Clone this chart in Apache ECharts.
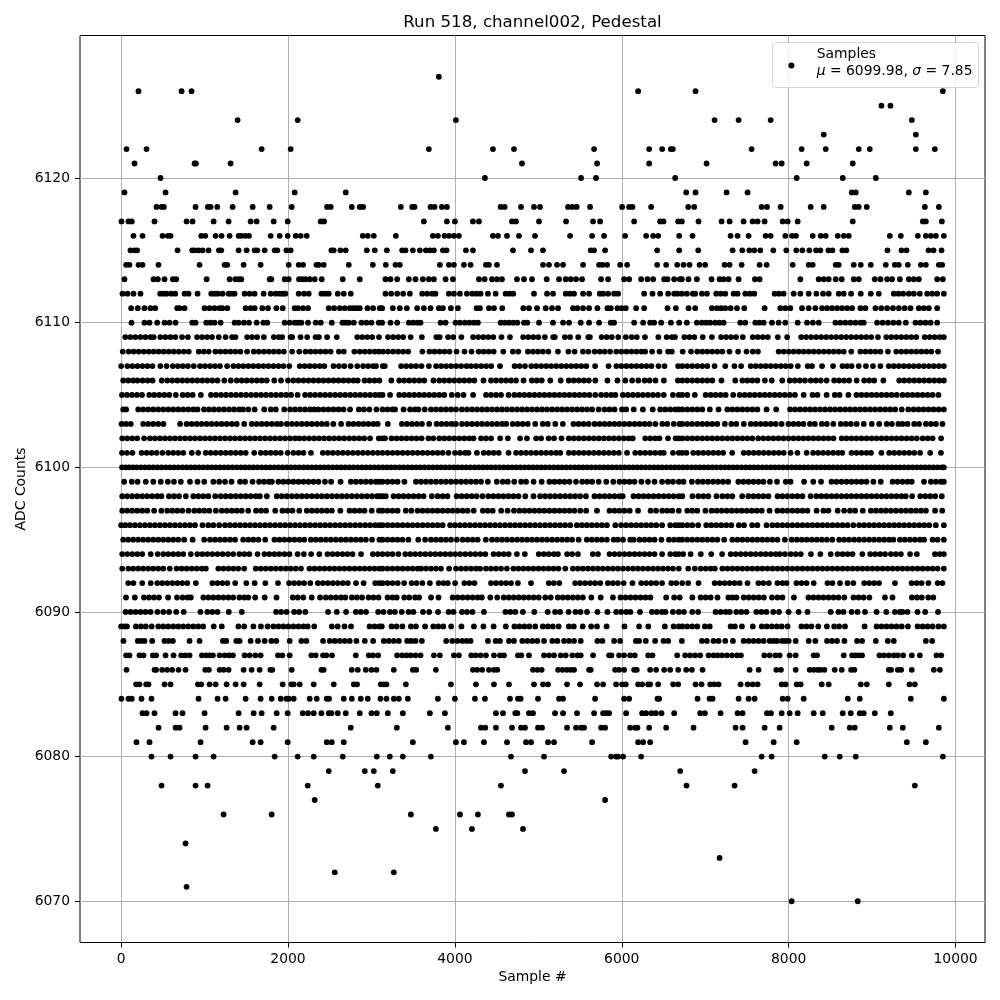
<!DOCTYPE html>
<html>
<head>
<meta charset="utf-8">
<script src="https://cdn.jsdelivr.net/npm/echarts@6/dist/echarts.min.js"></script>
<style>html,body{margin:0;padding:0;background:#fff}#c{width:1000px;height:1000px}</style>
</head>
<body>
<div id="c"></div>
<script>
const xTicks = [0, 2000, 4000, 6000, 8000, 10000];
const yTicks = [6070, 6080, 6090, 6100, 6110, 6120];
const s6127 = [3808];
const s6126 = [208,724,844,6196,6884,9848];
const s6125 = [9112,9220];
const s6124 = [1396,2116,4012,7112,7400,7784,9476];
const s6123 = [8420,9524];
const s6122 = [64,304,1684,2032,3688,4456,4708,5668,6328,6484,6588,6612,7556,8156,8444,8840,8972,9524,9752];
const s6121 = [160,880,896,1312,4804,5704,6328,7016,7844,7916,8216,8768];
const s6120 = [472,4360,5512,5692,6640,8096,8648,9044];
const s6119 = [40,532,1372,2080,2692,6772,6884,7256,7508,8756,8804,9440,9644];
const s6118 = [424,484,512,892,1040,1072,1152,1336,1576,1780,2044,2468,2512,2764,2860,2900,3352,3488,3516,3708,3756,3844,3904,4548,4596,4792,4948,5020,5356,5408,5460,5620,6004,6088,6128,6352,6796,6868,7676,7740,7904,8264,8420,8792,8840,8936,9632,9800];
const s6117 = [4,88,128,400,784,856,1108,1288,1552,1624,1828,1996,2392,2432,3628,3904,4000,4216,4288,4684,4732,5008,5332,5656,5740,6148,6460,6500,6676,6720,6920,7196,7292,7460,7568,7628,7712,7928,7988,8108,8768,9608,9644,9836];
const s6116 = [148,256,496,560,592,960,1008,1132,1204,1300,1408,1440,1488,1532,1792,1900,1996,2092,2152,2224,2896,2956,3028,3292,3736,3796,3876,3928,3988,4048,4456,4516,4624,4768,4960,5380,5644,5788,6040,6292,6376,6436,6688,6848,7304,7388,7520,7724,7784,7960,8040,8088,8288,8384,8444,8588,8660,8720,9212,9344,9548,9644,9704,9764,9860];
const s6115 = [112,160,192,676,852,880,928,976,1048,1172,1200,1408,1504,1600,1632,1720,1840,1872,1980,2032,2520,2548,2628,2692,2944,3040,3184,3368,3408,3496,3580,3652,3700,3748,3856,3900,4132,4216,4696,4912,5056,5628,5668,5800,6424,6688,6916,7328,7444,7528,7588,7660,7816,7972,8092,8164,8248,8328,8380,8476,8524,8644,8692,9184,9352,9412,9676,9736,9832];
const s6114 = [60,100,208,256,448,940,1240,1272,1468,1672,2008,2128,2180,2340,2368,2428,2728,3016,3172,3288,3340,3820,3928,3988,4108,4188,4372,4408,4504,5056,5128,5224,5296,5536,5728,5768,5824,5980,6064,6424,6532,6664,6740,6812,6932,7000,7232,7292,7436,7652,7736,8048,8240,8288,8564,8600,8780,8864,8984,9164,9272,9320,9428,9584,9644,9800,9840];
const s6113 = [40,388,440,520,620,660,1024,1300,1368,1410,1440,1780,1800,1960,2008,2132,2170,2208,2260,2320,2404,2656,2860,3168,3228,3308,3448,3528,3616,3688,3748,3888,3976,4288,4356,4444,4504,4564,4744,4828,4924,5100,5248,5328,5388,5452,5524,5752,5836,6028,6088,6232,6308,6376,6508,6548,6628,6696,6720,6800,6900,7076,7172,7220,7280,7400,7596,7652,8140,8360,8420,8480,8564,8636,8780,8840,9032,9100,9180,9240,9332,9440,9500,9560,9780,9848];
const s6112 = [16,76,148,232,468,510,544,600,648,760,808,916,1080,1120,1160,1216,1288,1325,1360,1480,1540,1600,1708,1792,1852,1900,1935,1968,2128,2192,2248,2400,2445,2488,2596,2668,2752,3168,3236,3308,3380,3460,3608,3668,3728,3768,3928,3988,4060,4144,4208,4258,4308,4396,4488,4608,4655,4700,4948,5104,5176,5328,5380,5428,5536,5608,5736,5776,5836,5908,5956,6268,6368,6460,6556,6628,6668,6720,6780,6852,6880,6960,7020,7132,7186,7240,7340,7388,7480,7535,7588,7832,7885,7940,8060,8140,8240,8332,8412,8480,8600,8660,8748,8864,8984,9080,9260,9315,9372,9440,9500,9572,9660,9720,9780,9860];
const s6111 = [120,200,280,352,408,672,700,760,1000,1060,1120,1180,1212,1272,1492,1552,1600,1692,1760,1860,1936,2080,2120,2180,2240,2488,2552,2620,2680,2740,2780,2820,2860,2952,3020,3100,3128,3256,3340,3424,3548,3628,3708,3808,3856,3952,4036,4260,4300,4408,4468,4568,4820,4888,4984,5088,5164,5236,5416,5468,5536,5608,5708,5828,5868,5948,6000,6048,6172,6268,6548,6648,6800,6880,7080,7140,7190,7240,7304,7380,7468,7712,7900,7960,8020,8160,8240,8320,8400,8460,8520,8580,8640,8700,8760,8860,8920,9040,9110,9180,9250,9320,9390,9460,9560,9620,9680,9780];
const s6110 = [124,280,340,432,520,580,652,852,892,1020,1070,1120,1192,1360,1408,1472,1532,1624,1704,1752,1960,2020,2080,2120,2160,2240,2332,2392,2524,2652,2690,2728,2788,2880,2940,3000,3088,3128,3228,3308,3448,3500,3550,3588,3828,3888,4008,4060,4120,4175,4228,4276,4548,4600,4650,4700,4748,4828,4868,5008,5176,5296,5368,5508,5608,5728,5868,5908,6148,6256,6340,6388,6472,6588,6688,6780,6900,6960,7010,7060,7120,7170,7220,7420,7480,7600,7650,7700,7800,7880,7960,8108,8220,8290,8360,8560,8620,8680,8740,8800,8860,8900,9060,9125,9190,9255,9320,9404,9520,9580,9640,9700,9780];
const s6109 = [50,110,170,230,290,350,390,470,530,590,650,730,800,910,970,1030,1090,1170,1252,1330,1370,1510,1570,1630,1710,1830,1890,1930,2030,2050,2150,2230,2330,2370,2468,2584,2830,2890,2950,3010,3090,3198,3260,3320,3380,3470,3604,3778,3818,3918,3980,4078,4218,4280,4340,4400,4460,4558,4660,4818,4880,4940,5000,5078,5178,5198,5318,5380,5478,5598,5618,5758,5820,5880,5958,6048,6118,6180,6278,6438,6538,6600,6638,6750,6810,6870,6970,7080,7190,7250,7310,7370,7450,7570,7630,7690,7750,7870,7982,8150,8210,8270,8330,8390,8450,8510,8570,8630,8690,8750,8810,8870,8930,8990,9070,9170,9230,9290,9350,9410,9470,9530,9630,9690,9750,9810,9860];
const s6108 = [20,90,150,210,270,330,390,450,510,570,630,690,750,810,930,990,1050,1130,1190,1250,1310,1370,1430,1510,1590,1650,1710,1770,1830,1890,1950,2050,2135,2210,2270,2330,2390,2450,2510,2610,2668,2795,2860,2920,2980,3040,3090,3140,3200,3260,3320,3380,3440,3610,3695,3755,3815,3875,3935,4020,4115,4200,4285,4345,4405,4465,4580,4695,4760,4875,4935,4995,5055,5120,5235,5360,5435,5535,5600,5675,5735,5795,5860,5935,5995,6055,6115,6175,6235,6280,6364,6452,6555,6600,6730,6830,6905,6965,7025,7085,7145,7205,7290,7394,7495,7570,7632,7880,7940,8000,8060,8120,8180,8240,8300,8360,8420,8480,8540,8600,8660,8750,8860,8920,8980,9040,9100,9190,9290,9350,9410,9470,9530,9590,9650,9710,9790];
const s6107 = [0,75,135,195,255,315,375,470,545,620,680,740,800,870,945,1005,1065,1125,1185,1270,1345,1405,1465,1525,1585,1645,1705,1765,1825,1885,1945,2015,2140,2200,2260,2320,2380,2435,2545,2610,2675,2750,2830,2900,2960,3020,3055,3135,3160,3355,3415,3475,3535,3600,3688,3775,3835,3895,3955,4015,4075,4140,4195,4255,4315,4375,4435,4540,4715,4775,4840,4915,4975,5035,5095,5155,5215,5275,5335,5395,5455,5515,5575,5680,5842,5935,5995,6055,6115,6175,6235,6295,6355,6440,6512,6675,6725,6785,6845,6905,6965,7025,7112,7240,7350,7430,7545,7605,7665,7725,7785,7845,7905,7965,8025,8110,8228,8280,8400,8532,8645,8700,8755,8840,8926,9010,9100,9200,9260,9320,9380,9440,9500,9560,9620,9680,9740,9800,9860];
const s6106 = [25,85,145,195,257,317,377,487,553,613,673,733,793,853,913,973,1033,1093,1155,1237,1315,1385,1445,1505,1565,1625,1685,1745,1835,1916,2000,2065,2125,2185,2245,2305,2365,2425,2485,2545,2605,2665,2725,2785,2835,2917,2977,3037,3095,3238,3333,3393,3453,3513,3573,3633,3743,3813,3873,3933,3993,4053,4113,4173,4233,4343,4433,4493,4553,4613,4673,4733,4823,4921,4981,5041,5143,5268,5365,5425,5485,5545,5605,5683,5828,5948,6042,6124,6198,6273,6333,6403,6504,6673,6725,6785,6845,6905,6965,7025,7085,7195,7360,7445,7505,7565,7625,7715,7797,7923,8013,8073,8133,8195,8265,8325,8385,8455,8545,8605,8665,8725,8815,8905,8965,9025,9135,9325,9385,9445,9505,9565,9625,9685,9745,9805,9860];
const s6105 = [10,70,130,190,250,337,397,457,517,577,655,737,797,857,955,1077,1137,1197,1257,1317,1377,1437,1497,1557,1617,1677,1737,1797,1857,1917,1977,2037,2115,2205,2265,2325,2385,2445,2505,2565,2625,2685,2745,2805,2865,2925,2985,3045,3095,3133,3223,3333,3393,3453,3513,3573,3633,3693,3753,3813,3873,3963,4033,4103,4218,4373,4433,4493,4553,4643,4713,4773,4833,4893,4953,5013,5073,5133,5193,5253,5313,5373,5433,5493,5553,5613,5683,5753,5813,5873,5923,6013,6073,6133,6193,6253,6313,6373,6433,6503,6613,6683,6725,6785,6875,7005,7065,7125,7185,7245,7335,7413,7473,7533,7593,7653,7713,7773,7833,7893,7953,8013,8075,8180,8285,8345,8455,8553,8610,8715,8813,8873,8933,8993,9053,9113,9173,9233,9295,9365,9425,9485,9545,9605,9665,9725,9795];
const s6104 = [25,60,205,265,325,385,445,505,565,625,685,745,805,865,915,993,1053,1113,1173,1233,1293,1353,1415,1460,1525,1600,1715,1793,1853,1955,2025,2085,2145,2205,2265,2315,2365,2425,2485,2545,2605,2665,2743,2849,2909,2975,3060,3133,3193,3253,3283,3385,3463,3521,3563,3638,3713,3773,3833,3893,3953,4013,4083,4145,4205,4265,4325,4385,4445,4505,4565,4625,4685,4745,4805,4865,4925,4985,5045,5105,5165,5225,5285,5345,5405,5465,5525,5585,5645,5723,5793,5853,5913,6003,6053,6143,6253,6371,6461,6521,6581,6641,6683,6725,6785,6845,6905,6965,7055,7160,7265,7325,7385,7445,7505,7565,7625,7735,7850,8017,8077,8137,8197,8257,8317,8377,8437,8497,8557,8617,8677,8737,8797,8857,8917,8977,9037,9097,9157,9217,9277,9355,9434,9497,9557,9617,9677,9737,9797,9860];
const s6103 = [5,60,115,265,325,385,445,507,707,785,845,905,965,1025,1085,1145,1205,1265,1325,1385,1475,1565,1625,1685,1745,1805,1865,1915,1985,2045,2105,2165,2225,2285,2345,2405,2465,2543,2636,2725,2785,2845,2905,2965,3025,3075,3196,3365,3425,3485,3545,3605,3691,3781,3841,3901,3961,4011,4085,4145,4205,4265,4325,4385,4445,4505,4565,4615,4693,4753,4813,4873,4963,5053,5113,5203,5294,5421,5481,5541,5603,5673,5733,5793,5853,5913,5973,6033,6093,6153,6213,6273,6333,6403,6485,6545,6623,6692,6725,6785,6843,6905,6965,7025,7085,7145,7235,7313,7373,7463,7545,7605,7665,7725,7785,7845,7915,7997,8057,8117,8177,8255,8314,8397,8457,8535,8625,8685,8745,8815,8900,8996,9085,9175,9237,9315,9365,9425,9505,9563,9645,9705,9765,9843];
const s6102 = [13,73,133,193,275,345,405,465,525,585,645,705,765,825,885,945,1005,1065,1125,1185,1245,1305,1365,1425,1485,1545,1605,1665,1725,1785,1845,1905,1965,2025,2085,2135,2193,2253,2313,2373,2433,2493,2553,2613,2673,2733,2793,2853,2913,2983,3088,3133,3163,3241,3301,3361,3421,3481,3541,3601,3683,3742,3813,3873,3933,3993,4053,4113,4173,4223,4313,4373,4433,4543,4634,4781,4863,4973,5033,5123,5188,5278,5365,5425,5485,5545,5605,5665,5725,5785,5845,5905,5965,6025,6083,6132,6281,6341,6401,6451,6554,6645,6683,6725,6785,6845,6905,6965,7025,7085,7145,7205,7265,7325,7385,7445,7505,7565,7635,7697,7757,7817,7877,7937,7997,8057,8117,8177,8237,8297,8357,8417,8477,8537,8635,8693,8753,8813,8873,8933,8993,9053,9113,9173,9233,9293,9353,9413,9473,9535,9605,9665,9725,9827];
const s6101 = [10,70,135,245,305,365,425,495,565,625,685,745,847,924,1013,1073,1133,1193,1253,1313,1373,1433,1493,1595,1673,1733,1793,1853,1913,1995,2065,2125,2185,2275,2417,2477,2537,2597,2657,2717,2777,2837,2897,2957,3017,3077,3133,3193,3253,3313,3373,3433,3493,3553,3613,3673,3733,3793,3853,3923,4001,4061,4121,4163,4264,4345,4405,4465,4525,4643,4733,4793,4853,4913,4973,5033,5093,5153,5213,5263,5365,5425,5485,5545,5605,5665,5725,5785,5845,5905,5965,6063,6161,6221,6281,6341,6401,6461,6503,6613,6683,6725,6775,6857,6917,6977,7037,7097,7157,7215,7324,7461,7521,7581,7641,7701,7761,7821,7881,7941,8023,8105,8215,8293,8353,8413,8473,8533,8593,8643,8753,8813,8873,8933,8987,9112,9205,9265,9325,9385,9445,9505,9575,9696,9825];
const s6100 = [10,55,95,140,185,235,285,335,385,435,485,535,585,635,685,735,785,835,885,935,985,1035,1085,1135,1185,1235,1285,1335,1385,1435,1485,1535,1585,1635,1685,1735,1785,1835,1885,1935,1985,2035,2085,2135,2185,2235,2285,2335,2385,2435,2485,2535,2585,2635,2685,2735,2785,2835,2885,2935,2985,3035,3085,3135,3185,3235,3285,3335,3385,3435,3485,3535,3585,3635,3685,3735,3785,3835,3885,3935,3985,4035,4085,4135,4185,4235,4285,4335,4385,4435,4485,4535,4585,4635,4685,4735,4785,4835,4885,4935,4985,5035,5085,5135,5185,5235,5285,5335,5385,5435,5485,5535,5585,5635,5685,5735,5785,5835,5885,5935,5985,6035,6085,6135,6185,6235,6285,6335,6385,6435,6485,6535,6585,6635,6685,6735,6785,6835,6885,6935,6985,7035,7085,7135,7185,7235,7285,7335,7385,7435,7485,7535,7585,7635,7685,7735,7785,7835,7885,7935,7985,8035,8085,8135,8185,8235,8285,8335,8385,8435,8485,8535,8585,8635,8685,8735,8785,8835,8885,8935,8985,9035,9085,9135,9185,9235,9285,9335,9385,9435,9485,9535,9585,9635,9685,9735,9785,9835,9860];
const s6099 = [37,127,197,295,385,475,560,633,715,825,915,996,1105,1175,1245,1323,1425,1485,1575,1653,1713,1773,1807,1885,1945,2005,2065,2125,2185,2245,2305,2365,2443,2516,2630,2753,2813,2873,2933,2993,3053,3095,3133,3193,3253,3313,3395,3533,3593,3653,3713,3773,3833,3893,3953,4013,4073,4133,4193,4253,4313,4395,4502,4573,4633,4711,4793,4853,4943,5040,5133,5193,5253,5313,5373,5451,5525,5585,5645,5723,5814,5898,5973,6033,6093,6153,6235,6314,6393,6483,6553,6613,6683,6740,6840,6913,6973,7033,7093,7153,7213,7275,7397,7457,7517,7577,7637,7697,7775,7860,7965,8023,8185,8295,8388,8513,8573,8633,8693,8753,8813,8873,8933,9015,9104,9245,9305,9365,9425,9475,9622,9705,9765,9825,9860];
const s6098 = [13,73,133,193,253,313,373,433,483,573,633,693,775,865,925,985,1045,1127,1193,1253,1313,1373,1433,1493,1553,1613,1663,1746,1865,1925,1985,2045,2105,2165,2225,2285,2345,2405,2465,2525,2585,2645,2705,2765,2825,2885,2945,3005,3065,3095,3133,3171,3265,3325,3385,3445,3505,3565,3625,3723,3793,3853,3911,4021,4081,4141,4201,4261,4331,4401,4461,4521,4581,4641,4701,4761,4843,4942,5021,5081,5141,5201,5261,5321,5381,5441,5501,5571,5673,5733,5793,5853,5913,5973,6011,6141,6201,6261,6321,6381,6441,6501,6561,6621,6683,6725,6847,6917,6977,7037,7135,7205,7265,7325,7443,7517,7577,7637,7697,7757,7867,7925,7985,8045,8105,8165,8263,8333,8393,8453,8513,8573,8633,8693,8753,8813,8873,8933,8993,9053,9113,9173,9233,9293,9353,9403,9480,9577,9637,9697,9757,9835];
const s6097 = [13,73,133,193,253,313,395,482,553,613,673,733,807,877,937,997,1057,1135,1205,1265,1325,1385,1445,1523,1617,1677,1737,1847,1933,1993,2053,2135,2225,2285,2345,2405,2465,2525,2627,2737,2797,2857,2917,3003,3090,3133,3193,3253,3313,3411,3478,3553,3613,3673,3733,3793,3853,3913,3973,4033,4093,4151,4225,4335,4393,4453,4555,4632,4708,4773,4833,4893,4953,5013,5073,5133,5193,5253,5313,5373,5433,5503,5573,5703,5853,5913,5973,6033,6095,6195,6345,6411,6485,6545,6605,6683,6785,6845,6905,7003,7077,7137,7197,7257,7317,7377,7437,7497,7557,7617,7677,7771,7865,7925,7985,8045,8105,8165,8225,8335,8417,8477,8587,8665,8735,8796,8888,8985,9045,9105,9165,9225,9285,9345,9405,9465,9525,9585,9645,9755,9840];
const s6096 = [0,50,105,165,225,285,345,405,465,525,585,645,705,765,825,885,975,1045,1105,1175,1245,1305,1365,1425,1485,1545,1605,1665,1725,1785,1845,1905,1965,2025,2085,2145,2205,2265,2325,2385,2445,2505,2565,2625,2685,2745,2805,2865,2925,2985,3045,3095,3133,3193,3253,3313,3373,3433,3493,3553,3613,3673,3733,3793,3853,3943,4001,4061,4121,4181,4241,4301,4361,4421,4481,4541,4601,4661,4721,4781,4841,4901,4961,5021,5081,5141,5201,5261,5321,5383,5461,5521,5581,5641,5701,5761,5821,5923,5993,6053,6113,6173,6233,6293,6353,6413,6483,6581,6641,6683,6725,6785,6845,6915,7013,7073,7133,7193,7253,7313,7403,7465,7563,7625,7735,7805,7865,7925,7985,8045,8105,8165,8225,8285,8345,8405,8465,8525,8585,8645,8705,8775,8845,8905,8965,9025,9085,9145,9205,9265,9325,9385,9445,9505,9565,9625,9685,9763,9860];
const s6095 = [25,85,145,205,265,325,385,445,505,565,625,685,755,857,995,1065,1125,1185,1245,1305,1365,1463,1525,1585,1645,1727,1837,1897,1957,2017,2077,2137,2195,2273,2333,2393,2453,2513,2573,2633,2693,2753,2813,2873,2933,3007,3095,3133,3193,3253,3313,3373,3443,3561,3643,3713,3773,3833,3893,3953,4023,4093,4153,4213,4273,4371,4445,4505,4565,4625,4685,4745,4805,4865,4925,4985,5045,5105,5165,5225,5285,5345,5405,5483,5581,5641,5701,5761,5821,5903,5953,6015,6101,6143,6213,6273,6333,6393,6475,6565,6625,6683,6725,6785,6845,6905,6965,7025,7085,7145,7227,7325,7385,7445,7505,7565,7625,7685,7745,7805,7865,7955,8037,8097,8157,8217,8277,8337,8397,8457,8523,8605,8665,8725,8785,8845,8905,8965,9025,9085,9145,9205,9255,9333,9393,9453,9513,9573,9623,9725,9785,9860];
const s6094 = [13,73,133,193,253,355,438,505,565,625,685,745,835,913,973,1033,1093,1155,1217,1280,1343,1417,1477,1537,1635,1717,1777,1837,1895,1957,2017,2115,2190,2277,2375,2473,2533,2593,2653,2713,2773,2875,3017,3077,3133,3193,3253,3323,3405,3465,3525,3585,3645,3705,3765,3825,3885,3945,4005,4063,4125,4185,4245,4305,4365,4463,4525,4585,4645,4743,4838,5005,5065,5125,5185,5235,5345,5405,5475,5653,5715,5853,5913,5973,6033,6093,6153,6213,6273,6333,6393,6483,6581,6641,6683,6736,6825,6947,7072,7202,7305,7365,7425,7485,7545,7605,7665,7725,7785,7845,7895,7956,8025,8085,8145,8267,8380,8504,8585,8645,8705,8765,8883,8977,9037,9097,9155,9225,9285,9345,9455,9536,9753,9810,9860];
const s6093 = [13,87,145,205,265,325,385,445,505,583,665,725,785,845,905,965,1015,1165,1225,1285,1345,1405,1475,1613,1673,1733,1793,1853,1913,1973,2033,2093,2155,2257,2317,2377,2437,2497,2557,2617,2677,2737,2797,2857,2917,2977,3037,3095,3133,3193,3253,3313,3373,3433,3493,3553,3595,3653,3713,3773,3833,3931,4013,4073,4133,4193,4253,4303,4373,4433,4493,4553,4623,4701,4761,4821,4881,4941,5001,5061,5121,5181,5241,5323,5413,5473,5533,5593,5653,5713,5773,5833,5893,5953,6013,6073,6133,6193,6253,6313,6373,6433,6493,6553,6613,6683,6797,6875,6945,7005,7065,7115,7205,7265,7325,7385,7445,7505,7565,7625,7685,7745,7805,7865,7925,7985,8045,8105,8165,8225,8285,8345,8405,8465,8525,8585,8645,8705,8765,8825,8885,8945,9005,9065,9125,9185,9245,9305,9365,9425,9485,9545,9605,9665,9725,9785,9860];
const s6092 = [85,147,253,355,433,493,553,613,673,733,793,895,1093,1153,1213,1273,1367,1500,1600,1728,1880,2013,2073,2133,2193,2267,2357,2417,2477,2537,2597,2657,2717,2815,2906,3045,3095,3133,3193,3253,3315,3392,3481,3541,3611,3700,3805,3865,3915,4002,4113,4173,4235,4433,4493,4553,4613,4673,4755,4912,5125,5185,5251,5441,5501,5561,5621,5681,5743,5833,5893,5953,6023,6128,6233,6293,6353,6413,6483,6593,6653,6724,6796,6920,7113,7173,7233,7293,7353,7413,7507,7637,7697,7763,7865,7925,7975,8093,8153,8215,8300,8465,8525,8615,8705,8775,8905,8965,9025,9083,9274,9473,9533,9593,9675,9785,9843];
const s6091 = [58,164,273,333,393,453,563,670,737,797,835,985,1045,1105,1165,1225,1285,1343,1417,1477,1523,1606,1720,1862,2057,2117,2183,2284,2384,2453,2513,2573,2633,2687,2765,2825,2887,2965,3025,3085,3193,3253,3303,3393,3453,3523,3571,3714,3804,3973,4033,4093,4153,4213,4273,4323,4424,4508,4585,4645,4705,4765,4825,4885,4945,5005,5083,5148,5233,5293,5353,5413,5473,5533,5635,5748,5894,5985,6045,6105,6165,6225,6285,6343,6532,6628,6694,6846,6945,7005,7065,7147,7277,7326,7375,7461,7521,7581,7641,7703,7800,7865,7925,8063,8237,8297,8357,8417,8477,8537,8597,8667,8777,8837,8897,8967,9154,9244,9477,9537,9595,9673,9733];
const s6090 = [53,113,173,233,293,353,435,505,575,660,750,950,1033,1093,1155,1290,1446,1857,1917,1983,2073,2133,2207,2480,2584,2696,2813,2873,2935,3080,3144,3221,3281,3363,3445,3503,3618,3692,3798,3925,3983,4085,4145,4211,4348,4605,4665,4725,4815,4952,5112,5201,5261,5363,5445,5505,5583,5708,5828,5933,5993,6053,6103,6218,6361,6421,6481,6523,6613,6683,6744,6845,6915,7125,7185,7245,7295,7373,7433,7495,7613,7673,7733,7815,7884,8000,8120,8226,8504,8597,8657,8755,8825,8915,9054,9170,9273,9333,9363,9424,9544,9636,9790];
const s6089 = [0,40,70,177,237,295,366,445,505,565,625,685,745,805,865,925,983,1110,1206,1405,1475,1585,1675,1756,1825,1885,1945,2005,2065,2125,2185,2235,2314,2525,2595,2677,2755,2977,3037,3095,3124,3241,3301,3371,3473,3533,3643,3741,3801,3861,3955,4078,4228,4342,4464,4610,4713,4773,4833,4893,4963,5053,5113,5173,5243,5365,5425,5531,5633,5703,5818,6032,6208,6318,6516,6621,6683,6725,6785,6845,6905,6995,7054,7305,7355,7440,7570,7677,7737,7797,7857,7917,7987,8153,8213,8273,8355,8458,8545,8605,8675,8910,9053,9113,9173,9233,9293,9355,9430,9545,9605,9665,9725,9795,9860];
const s6088 = [28,200,240,280,372,520,568,620,820,940,1220,1260,1380,1420,1552,1640,1720,1800,1860,2020,2160,2220,2420,2500,2560,2620,2680,2740,2820,2920,3020,3148,3208,3268,3328,3428,3476,3528,3604,3896,3968,4028,4088,4140,4188,4396,4488,4540,4648,4708,4808,4868,4928,4988,5068,5168,5228,5308,5368,5428,5508,5708,5768,5908,5980,6168,6208,6288,6400,6500,6556,6720,6960,7020,7100,7160,7240,7332,7460,7520,7580,7640,7700,7772,7820,7860,7920,7960,8000,8084,8240,8320,8460,8520,8580,8668,8820,8880,9044,9188,9260,9644,9720];
const s6087 = [60,100,220,268,380,420,532,628,720,768,820,968,1020,1060,1100,1180,1240,1292,1340,1480,1540,1608,1672,1880,1932,2020,2280,2332,2420,2460,2528,2812,2968,3020,3080,3308,3368,3420,3468,3528,3588,3748,3820,3988,4048,4196,4248,4308,4372,4468,4540,4588,4756,4796,4888,5068,5128,5188,5268,5328,5408,5468,5508,5656,5848,5876,5968,6028,6100,6156,6316,6368,6664,6760,6820,6880,6940,7040,7100,7148,7200,7260,7320,7380,7428,7708,7772,7840,7892,8012,8084,8300,8340,8660,8760,8800,8840,8880,9088,9140,9200,9260,9308,9372,9476,9572,9772,9828];
const s6086 = [64,400,420,492,552,612,688,772,1008,1052,1180,1228,1288,1468,1564,1660,1788,1812,2044,2400,2428,2764,2836,2932,3000,3060,3268,3496,3536,3772,4216,4268,4328,4408,4468,4508,4936,4988,5040,5236,5288,5340,5388,5428,5608,5628,5920,5968,6028,6148,6180,6340,6412,6508,6580,6676,6772,6840,6968,7532,7640,7852,7908,8084,8252,8300,8348,8380,8428,8552,8636,8748,8788,9200,9228,9308,9348,9476,9740,9812];
const s6085 = [180,220,300,328,520,592,920,960,1060,1132,1264,1372,1468,1660,1936,2040,2068,2140,2308,2548,2788,2828,3112,3148,3180,3412,3952,4252,4468,4648,4948,5056,5116,5344,5500,5704,5776,5932,6004,6048,6196,6244,6316,6340,6436,6616,6676,6884,6956,7060,7108,7160,7424,7508,7568,7628,7916,7964,8096,8144,8396,8480,8864,8936,9200,9448,9512];
const s6084 = [4,88,128,244,364,928,1156,1252,1492,1672,1804,1912,1980,2008,2068,2260,2344,2464,2492,2668,2764,2872,2956,3108,3180,3268,3328,3436,3796,4000,4240,4360,4660,4756,4788,4996,5248,5296,5680,6028,6088,6428,6448,6908,7052,7088,7400,7520,7592,7928,7988,8180,8708,8852,9464,9860];
const s6083 = [256,304,400,652,736,1000,1408,1588,1684,1864,1996,2176,2240,2308,2400,2488,2520,2596,2692,2860,3000,3064,3196,3376,3700,3880,4492,4576,4724,4748,4888,4936,5200,5296,5464,5668,5776,5812,5848,6052,6244,6292,6356,6408,6476,6628,6940,6996,7184,7388,7448,7740,7788,7916,8012,8108,8300,8408,8648,8744,8852,8900,9032,9224];
const s6082 = [448,652,700,1012,1264,1420,1504,1828,2752,3304,3916,4312,4364,4492,4684,4792,4840,4996,5044,5344,5452,5512,5548,5752,5800,6100,6160,6188,6328,6532,6860,7364,7448,7712,7892,8516,8732,8792,9212,9368,9800];
const s6081 = [184,340,952,1576,1672,1996,2464,2524,2668,3496,4012,4108,4348,4624,4852,4912,5116,5188,5644,6196,6256,6340,7484,7820,8096,9416,9644];
const s6080 = [364,592,892,1108,1840,2116,2308,2656,3064,3220,3376,3712,4672,5068,5872,5932,5956,6016,6232,7676,7796,8432,8612,8804,9848];
const s6079 = [2488,2920,3028,3256,4840,5308,6700,7592];
const s6078 = [484,892,1036,2236,3076,4552,6776,7352,9512];
const s6077 = [2320,5800];
const s6076 = [1228,1804,3472,4060,4276,4648,4684];
const s6075 = [3772,4204,4816];
const s6074 = [772];
const s6073 = [7172];
const s6072 = [2560,3268];
const s6071 = [784];
const s6070 = [8036,8828];

const levels = [
 [6127,s6127],[6126,s6126],[6125,s6125],[6124,s6124],[6123,s6123],[6122,s6122],[6121,s6121],[6120,s6120],
 [6119,s6119],[6118,s6118],[6117,s6117],[6116,s6116],[6115,s6115],[6114,s6114],[6113,s6113],[6112,s6112],
 [6111,s6111],[6110,s6110],[6109,s6109],[6108,s6108],[6107,s6107],[6106,s6106],[6105,s6105],[6104,s6104],
 [6103,s6103],[6102,s6102],[6101,s6101],[6100,s6100],[6099,s6099],[6098,s6098],[6097,s6097],[6096,s6096],
 [6095,s6095],[6094,s6094],[6093,s6093],[6092,s6092],[6091,s6091],[6090,s6090],[6089,s6089],[6088,s6088],
 [6087,s6087],[6086,s6086],[6085,s6085],[6084,s6084],[6083,s6083],[6082,s6082],[6081,s6081],[6080,s6080],
 [6079,s6079],[6078,s6078],[6077,s6077],[6076,s6076],[6075,s6075],[6074,s6074],[6073,s6073],[6072,s6072],
 [6071,s6071],[6070,s6070]
];
const points = [];
levels.forEach(([v, xs]) => xs.forEach(x => points.push([x, v])));

const font = '"DejaVu Sans"';
const axisCommon = {
  type: 'value', scale: true, silent: true,
  axisLine: {show: false, onZero: false},
  axisTick: {show: true, length: 5, lineStyle: {color: '#000', width: 1}},
  splitLine: {show: true, lineStyle: {color: '#b0b0b0', width: 1}},
  minorTick: {show: false},
  nameLocation: 'middle',
  nameMoveOverlap: false,
  nameTextStyle: {fontFamily: font, fontSize: 13.9, color: '#000'}
};
const plain = v => String(v);
const chart = echarts.init(document.getElementById('c'), null, {renderer: 'canvas'});
chart.setOption({
  animation: false,
  backgroundColor: '#fff',
  title: {
    text: 'Run 518, channel002, Pedestal', left: 532.5, top: 14, padding: 0, textAlign: 'center',
    textStyle: {fontFamily: font, fontSize: 16.67, fontWeight: 'normal', color: '#000'}
  },
  grid: {left: 80, right: 15, top: 35.5, bottom: 57.5, show: true, borderColor: '#000', borderWidth: 1, backgroundColor: 'transparent'},
  xAxis: Object.assign({}, axisCommon, {
    min: -493, max: 10353, name: 'Sample #', nameGap: 28,
    axisTick: Object.assign({}, axisCommon.axisTick, {customValues: xTicks}),
    axisLabel: {customValues: xTicks, formatter: plain, margin: 10, fontFamily: font, fontSize: 13.9, color: '#000'}
  }),
  yAxis: Object.assign({}, axisCommon, {
    min: 6067.15, max: 6129.85, name: 'ADC Counts', nameGap: 52,
    axisTick: Object.assign({}, axisCommon.axisTick, {customValues: yTicks}),
    axisLabel: {customValues: yTicks, formatter: plain, margin: 10, fontFamily: font, fontSize: 13.9, color: '#000'}
  }),
  legend: {
    show: true, left: 788.4, top: 45.5, padding: 0, z: 5,
    icon: 'circle', itemWidth: 40.6, itemHeight: 6,
    data: ['Samples'],
    formatter: () => 'Samples\n{i|\u03bc} = 6099.98, {i|\u03c3} = 7.85',
    textStyle: {
      fontFamily: font, fontSize: 13.9, color: '#000', lineHeight: 17, padding: [0, 0, 6, 0],
      rich: {i: {fontFamily: font, fontSize: 13.9, fontStyle: 'italic', color: '#000', lineHeight: 17}}
    }
  },
  graphic: [{
    type: 'rect', z: 4, silent: true,
    shape: {x: 772.5, y: 42.5, width: 206, height: 45, r: 3},
    style: {fill: 'rgba(255,255,255,0.8)', stroke: 'rgba(204,204,204,0.8)', lineWidth: 1}
  }],
  series: [{
    name: 'Samples', type: 'scatter', data: points, symbol: 'circle', symbolSize: 5.8,
    z: 3, silent: true, large: false, progressive: 0,
    itemStyle: {color: '#000', opacity: 1}
  }]
});
</script>
</body>
</html>
